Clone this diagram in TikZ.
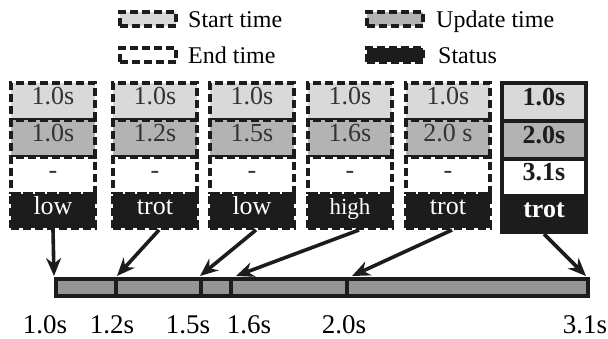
\documentclass[tikz,border=0pt]{standalone}
\usepackage{fontspec}
\setmainfont{Liberation Serif}
\usetikzlibrary{arrows.meta}
\definecolor{lgray}{HTML}{D9D9D9}
\definecolor{mgray}{HTML}{B3B3B3}
\definecolor{bargray}{HTML}{939598}
\definecolor{ink}{HTML}{1C1C1C}
\definecolor{txtgray}{HTML}{333333}
\tikzset{
  dbox/.style={draw=ink, line width=4pt, dash pattern=on 8pt off 4pt, inner sep=0pt,
    minimum width=84pt, text height=0.68em, text depth=0pt,
    font=\fontsize{26}{30}\selectfont},
  sbox/.style={draw=ink, line width=4pt, inner sep=0pt,
    minimum width=84pt, text height=0.68em, text depth=0pt,
    font=\fontsize{26}{30}\selectfont\bfseries},
  rowa/.style={fill=lgray, text=txtgray, minimum height=37pt},
  rowb/.style={fill=mgray, text=txtgray, minimum height=37pt},
  rowc/.style={fill=white, text=txtgray, minimum height=37pt},
  rowd/.style={fill=ink, text=white, minimum height=34pt},
  legbox/.style={draw=ink, line width=4pt, dash pattern=on 8pt off 4pt,
    minimum width=56pt, minimum height=14pt, inner sep=0pt},
  legtext/.style={anchor=base west, inner sep=0pt, font=\fontsize{24}{28}\selectfont},
  seg/.style={draw=ink, fill=bargray, line width=4pt, minimum height=17pt, inner sep=0pt, anchor=west},
  tlabel/.style={anchor=base, inner sep=0pt, font=\fontsize{27}{30}\selectfont},
  arr/.style={draw=ink, line width=3.6pt, -{Stealth[length=18pt,width=15pt]}}
}
\begin{document}
\begin{tikzpicture}[x=1pt,y=-1pt]
\useasboundingbox (0,0) rectangle (608,339);
% legend
\node[legbox, fill=lgray] (lg1) at (148,19) {};
\node[legtext] (lt1) at (188,27.5) {Start time};
\node[legbox, fill=white] (lg2) at (148,55.5) {};
\node[legtext] (lt2) at (188,64) {End time};
\node[legbox, fill=mgray] (lg3) at (394.5,19) {};
\node[legtext] (lt3) at (436,27.5) {Update time};
\node[legbox, fill=ink] (lg4) at (394.5,55.5) {};
\node[legtext] (lt4) at (438,64) {Status};
% columns 1-5
\foreach \i/\x/\s/\u/\st in {1/53/1.0s/1.0s/low, 2/155/1.0s/1.2s/trot, 3/252/1.0s/1.5s/low, 5/448/1.0s/2.0 s/trot}{
  \node[dbox, rowa] (c\i a) at (\x,101.5) {\s};
  \node[dbox, rowb] (c\i b) at (\x,138.5) {\u};
  \node[dbox, rowc] (c\i c) at (\x,175.5) {-};
  \node[dbox, rowd] (c\i d) at (\x,211) {\st};
}
\node[dbox, rowa] (c4a) at (350,101.5) {1.0s};
\node[dbox, rowb] (c4b) at (350,138.5) {1.6s};
\node[dbox, rowc] (c4c) at (350,175.5) {-};
\node[dbox, rowd, font=\fontsize{23}{27}\selectfont] (c4d) at (350,211) {high};
% column 6
\node[sbox, rowa, text=ink, minimum height=38pt] (c6a) at (544,102) {1.0s};
\node[sbox, rowb, text=ink, minimum height=38pt] (c6b) at (544,140) {2.0s};
\node[sbox, rowc, text=ink, minimum height=37pt] (c6c) at (544,177.5) {3.1s};
\node[sbox, rowd, minimum height=36pt] (c6d) at (544,214) {trot};
% timeline bar
\node[seg, minimum width=59.5pt] (s1) at (54,287.5) {};
\node[seg, minimum width=85pt] (s2) at (113.5,287.5) {};
\node[seg, minimum width=30pt] (s3) at (198.5,287.5) {};
\node[seg, minimum width=116pt] (s4) at (228.5,287.5) {};
\node[seg, minimum width=241.5pt] (s5) at (344.5,287.5) {};
% arrows
\coordinate (e1) at (54,276);
\coordinate (e2) at (117,276);
\coordinate (e3) at (200,276);
\coordinate (e4) at (236,276);
\coordinate (e5) at (352,276);
\coordinate (e6) at (586,276);
\draw[arr] (c1d.south) -- (e1);
\draw[arr] ([xshift=4pt]c2d.south) -- (e2);
\draw[arr] ([xshift=4pt]c3d.south) -- (e3);
\draw[arr] ([xshift=9pt]c4d.south) -- (e4);
\draw[arr] ([xshift=4pt]c5d.south) -- (e5);
\draw[arr] (c6d.south) -- (e6);
% labels
\node[tlabel] (l1) at (45,333) {1.0s};
\node[tlabel] (l2) at (112,333) {1.2s};
\node[tlabel] (l3) at (188,333) {1.5s};
\node[tlabel] (l4) at (249,333) {1.6s};
\node[tlabel] (l5) at (344,333) {2.0s};
\node[tlabel] (l6) at (585,333) {3.1s};
\end{tikzpicture}
\end{document}
